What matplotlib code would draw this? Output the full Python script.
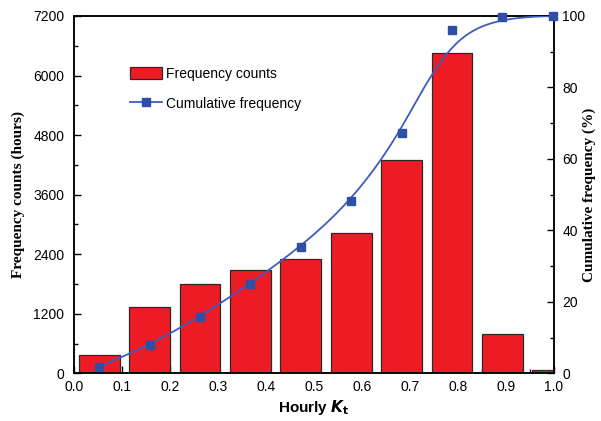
import numpy as np
import matplotlib
matplotlib.use("Agg")
import matplotlib.pyplot as plt
from matplotlib.lines import Line2D
from matplotlib.patches import Patch
from matplotlib.ticker import MultipleLocator

# Hourly clearness index bins (bin centres) and hours counted in each bin
kt_centers = [0.0525, 0.1575, 0.2625, 0.3675, 0.4725, 0.5775, 0.6825, 0.7875, 0.8925, 0.9975]
freq_counts = [374, 1341, 1792, 2074, 2295, 2825, 4289, 6449, 785, 60]
# Cumulative frequency (%) at each bin
cum_freq = [1.8, 7.8, 15.8, 25.1, 35.4, 48.1, 67.3, 96.2, 99.7, 100.0]

x_ticks = [0.0, 0.1, 0.2, 0.3, 0.4, 0.5, 0.6, 0.7, 0.8, 0.9, 1.0]
left_ticks = [0, 1200, 2400, 3600, 4800, 6000, 7200]
right_ticks = [0, 20, 40, 60, 80, 100]

BAR_RED = "#ED1C24"
LINE_BLUE = "#3F5BBE"
MARK_BLUE = "#2D4FA6"
SANS = ["Liberation Sans", "DejaVu Sans"]
SERIF = ["Liberation Serif", "DejaVu Serif"]


def clamped_bspline(ctrl_x, ctrl_y, num=400, k=3):
    """Cubic B-spline using the data points as control points."""
    P = np.column_stack([ctrl_x, ctrl_y])
    n = len(P)
    inner = np.linspace(0.0, 1.0, n - k + 1)
    knots = np.concatenate([np.zeros(k), inner, np.ones(k)])
    t = np.linspace(0.0, 1.0, num)
    m = len(knots) - 1
    B = np.zeros((num, m))
    for i in range(m):
        B[:, i] = (t >= knots[i]) & (t < knots[i + 1])
    B[t >= 1.0, n - 1] = 1.0
    for d in range(1, k + 1):
        nb = np.zeros((num, m - d))
        for i in range(m - d):
            a = knots[i + d] - knots[i]
            b = knots[i + d + 1] - knots[i + 1]
            term = np.zeros(num)
            if a > 0:
                term += (t - knots[i]) / a * B[:, i]
            if b > 0:
                term += (knots[i + d + 1] - t) / b * B[:, i + 1]
            nb[:, i] = term
        B = nb
    curve = B @ P
    return curve[:, 0], curve[:, 1]


fig = plt.figure(figsize=(6.01, 4.21), dpi=100)
ax = fig.add_axes([0.1231, 0.1133, 0.7987, 0.8487])
ax2 = ax.twinx()

bars = ax.bar(kt_centers, freq_counts, width=0.085, color=BAR_RED,
              edgecolor="#2a2a2a", linewidth=0.9, zorder=2)

sx, sy = clamped_bspline(kt_centers, cum_freq)
ax2.plot(sx, sy, color=LINE_BLUE, linewidth=1.3, zorder=3)
ax2.plot(kt_centers, cum_freq, linestyle="none", marker="s", markersize=6,
         color=MARK_BLUE, zorder=4, clip_on=False)

ax.set_xlim(0.0, 1.0)
ax.set_ylim(0, 7200)
ax2.set_ylim(0, 100)

ax.set_xticks(x_ticks)
ax.set_xticklabels([f"{v:.1f}" for v in x_ticks])
ax.xaxis.set_minor_locator(MultipleLocator(0.05))
ax.set_yticks(left_ticks)
ax.yaxis.set_minor_locator(MultipleLocator(600))
ax2.set_yticks(right_ticks)
ax2.yaxis.set_minor_locator(MultipleLocator(10))

for a in (ax, ax2):
    a.tick_params(which="major", direction="in", length=5, width=1.0,
                  labelsize=10, colors="black")
    a.tick_params(which="minor", direction="in", length=3, width=1.0)
    for lbl in a.get_xticklabels() + a.get_yticklabels():
        lbl.set_fontfamily(SANS)
    for sp in a.spines.values():
        sp.set_linewidth(1.1)
ax.tick_params(axis="x", which="both", top=False, pad=5)
ax.tick_params(axis="y", which="both", right=False, pad=7)
ax2.tick_params(axis="y", which="both", left=False, pad=6)

ax.set_xlabel(r"Hourly $\boldsymbol{K}_{\mathbf{t}}$", fontsize=11,
              fontweight="bold", family=SANS, labelpad=3)
ax.set_ylabel("Frequency counts (hours)", fontsize=11, fontweight="bold",
              family=SERIF)
ax2.set_ylabel("Cumulative frequency (%)", fontsize=11, fontweight="bold",
               family=SERIF, rotation=90)
ax.yaxis.set_label_coords(-0.103, 0.5)
ax2.yaxis.set_label_coords(1.060, 0.5)

handles = [
    Patch(facecolor=BAR_RED, edgecolor="#2a2a2a", linewidth=0.9),
    Line2D([0], [0], color=LINE_BLUE, linewidth=1.3, marker="s",
           markersize=6, markerfacecolor=MARK_BLUE, markeredgecolor=MARK_BLUE),
]
leg = ax2.legend(handles, ["Frequency counts", "Cumulative frequency"],
                 loc="upper left", bbox_to_anchor=(0.09, 0.893),
                 frameon=False, handlelength=2.3, handleheight=1.0,
                 labelspacing=1.15, handletextpad=0.35,
                 prop={"family": SANS, "size": 10})

fig.savefig("out.png", dpi=100)
